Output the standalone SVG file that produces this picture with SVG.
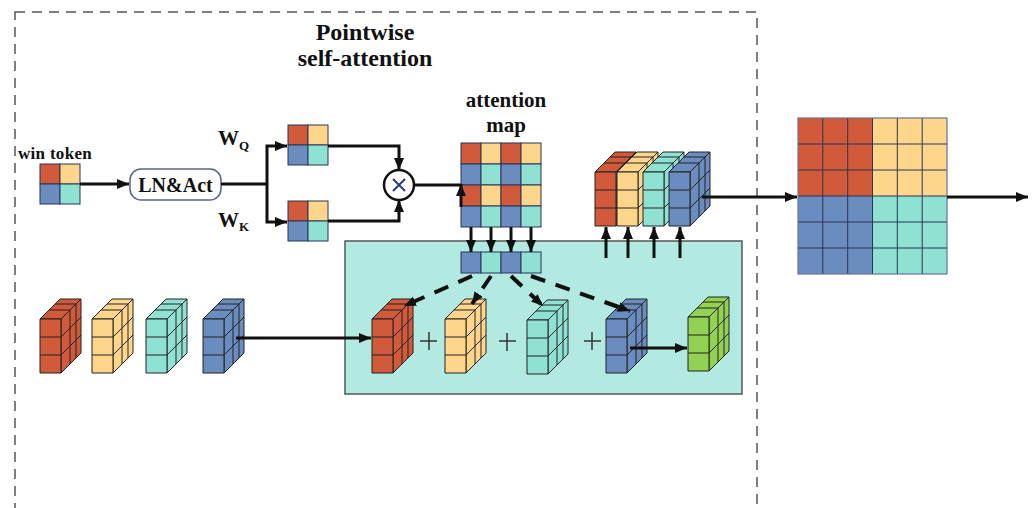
<svg xmlns="http://www.w3.org/2000/svg" xmlns:xlink="http://www.w3.org/1999/xlink" width="1035" height="508" viewBox="0 0 1035 508">
  <style>
    .r{fill:#d05a3a}
    .y{fill:#fed68b}
    .b{fill:#6a8cbf}
    .t{fill:#8fe1d1}
    .g{fill:#93d152}
    .cell rect{stroke:#2b3556;stroke-width:1}
    .lbl{font-family:"Liberation Serif","Times New Roman",serif;font-weight:bold;fill:#111}
    .conn{fill:none;stroke:#111;stroke-width:3}
    .dash{fill:none;stroke:#111;stroke-width:4;stroke-dasharray:15 11}
  </style>
  <defs>
    <marker id="ah" viewBox="0 0 12 10" refX="12" refY="5" markerWidth="12" markerHeight="10" markerUnits="userSpaceOnUse" orient="auto">
      <path d="M0,0 L12,5 L0,10 z" fill="#111"/>
    </marker>
    <!-- block of 1 x 3 x 3 cubes; faces take the fill of the <use> -->
    <g id="blk" stroke="#222" stroke-width="1" stroke-linejoin="round">
      <polygon points="0,0 21,0 41,-20 20,-20"/>
      <polygon points="21,0 41,-20 41,34 21,54"/>
      <rect x="0" y="0" width="21" height="54"/>
      <path d="M0 18H21M0 36H21M30 -9V45M36 -15V39M21 18L41 -2M21 36L41 16M9 -9H30M15 -15H36" fill="none"/>
    </g>
  </defs>

  <rect width="1035" height="508" fill="#fff"/>

  <!-- outer dashed frame -->
  <g id="frame">
    <rect x="15" y="12" width="742" height="520" fill="none" stroke="#555" stroke-width="1.5" stroke-dasharray="10 7"/>
    <text class="lbl" x="365" y="40" font-size="24" text-anchor="middle">Pointwise</text>
    <text class="lbl" x="365" y="66" font-size="24" text-anchor="middle">self-attention</text>
  </g>

  <!-- weighted-sum panel -->
  <g id="sum-panel">
    <rect x="345" y="241" width="397" height="153" fill="#b2e9e1" stroke="#555" stroke-width="1.5"/>
  </g>

  <g id="win-token" class="cell">
    <text class="lbl" x="18" y="159" font-size="17" letter-spacing="0.3">win token</text>
    <rect class="r" x="40" y="164" width="20" height="20"/>
    <rect class="y" x="60" y="164" width="20" height="20"/>
    <rect class="b" x="40" y="184" width="20" height="20"/>
    <rect class="t" x="60" y="184" width="20" height="20"/>
  </g>

  <g id="ln-act">
    <rect x="130" y="169" width="91" height="31" rx="11" fill="#fff" stroke="#5a6488" stroke-width="1.5"/>
    <text class="lbl" x="175.5" y="192" font-size="20" text-anchor="middle">LN&amp;Act</text>
  </g>

  <g id="wq">
    <text class="lbl" x="218" y="145" font-size="21">W<tspan font-size="13" dy="5">Q</tspan></text>
  </g>
  <g id="wk">
    <text class="lbl" x="218" y="227" font-size="21">W<tspan font-size="13" dy="4">K</tspan></text>
  </g>

  <g id="q-token" class="cell">
    <rect class="r" x="288" y="125" width="20" height="20"/>
    <rect class="y" x="308" y="125" width="20" height="20"/>
    <rect class="b" x="288" y="145" width="20" height="20"/>
    <rect class="t" x="308" y="145" width="20" height="20"/>
  </g>
  <g id="k-token" class="cell">
    <rect class="r" x="288" y="201" width="20" height="20"/>
    <rect class="y" x="308" y="201" width="20" height="20"/>
    <rect class="b" x="288" y="221" width="20" height="20"/>
    <rect class="t" x="308" y="221" width="20" height="20"/>
  </g>

  <g id="multiply">
    <circle cx="399" cy="185" r="15" fill="#fff" stroke="#111" stroke-width="2.5"/>
    <path d="M393,179 L405,191 M405,179 L393,191" stroke="#2a3f78" stroke-width="2"/>
  </g>

  <g id="attention-map" class="cell">
    <text class="lbl" x="506" y="107" font-size="21" text-anchor="middle">attention</text>
    <text class="lbl" x="506" y="132" font-size="21" text-anchor="middle">map</text>
    <rect class="r" x="461" y="143" width="20" height="21"/>
    <rect class="y" x="481" y="143" width="20" height="21"/>
    <rect class="r" x="501" y="143" width="20" height="21"/>
    <rect class="y" x="521" y="143" width="20" height="21"/>
    <rect class="b" x="461" y="164" width="20" height="21"/>
    <rect class="t" x="481" y="164" width="20" height="21"/>
    <rect class="b" x="501" y="164" width="20" height="21"/>
    <rect class="t" x="521" y="164" width="20" height="21"/>
    <rect class="r" x="461" y="185" width="20" height="21"/>
    <rect class="y" x="481" y="185" width="20" height="21"/>
    <rect class="r" x="501" y="185" width="20" height="21"/>
    <rect class="y" x="521" y="185" width="20" height="21"/>
    <rect class="b" x="461" y="206" width="20" height="21"/>
    <rect class="t" x="481" y="206" width="20" height="21"/>
    <rect class="b" x="501" y="206" width="20" height="21"/>
    <rect class="t" x="521" y="206" width="20" height="21"/>
  </g>

  <g id="weight-strip" class="cell">
    <rect class="b" x="461" y="252" width="20" height="21"/>
    <rect class="t" x="481" y="252" width="20" height="21"/>
    <rect class="b" x="501" y="252" width="20" height="21"/>
    <rect class="t" x="521" y="252" width="20" height="21"/>
  </g>

  <g id="value-blocks">
    <use href="#blk" x="40" y="319" class="r"/>
    <use href="#blk" x="92" y="319" class="y"/>
    <use href="#blk" x="146" y="319" class="t"/>
    <use href="#blk" x="203" y="319" class="b"/>
  </g>

  <g id="weighted-blocks">
    <use href="#blk" x="372" y="319" class="r"/>
    <use href="#blk" x="445" y="319" class="y"/>
    <use href="#blk" x="527" y="320" class="t"/>
    <use href="#blk" x="606" y="319" class="b"/>
    <path d="M420,341 H437 M507,333 V351 M499,341 H516 M584,341 H601 M429,332 V350 M592,332 V350" stroke="#333" stroke-width="1.5"/>
  </g>

  <g id="sum-block">
    <use href="#blk" x="688" y="317" class="g"/>
  </g>

  <g id="stacked-blocks">
    <use href="#blk" x="595" y="172" class="r"/>
    <use href="#blk" x="617" y="172" class="y"/>
    <use href="#blk" x="643" y="172" class="t"/>
    <use href="#blk" x="669" y="172" class="b"/>
  </g>

  <g id="output-map">
    <rect class="r" x="798" y="118" width="74.5" height="78"/>
    <rect class="y" x="872.5" y="118" width="74.5" height="78"/>
    <rect class="b" x="798" y="196" width="74.5" height="78"/>
    <rect class="t" x="872.5" y="196" width="74.5" height="78"/>
    <path d="M822.8,118V274M847.7,118V274M872.5,118V274M897.3,118V274M922.2,118V274M798,144H947M798,170H947M798,196H947M798,222H947M798,248H947" stroke="#2b3556" stroke-width="1" fill="none"/>
    <rect x="798" y="118" width="149" height="156" fill="none" stroke="#6a7490" stroke-width="1.2"/>
  </g>

  <g id="connectors">
    <path class="conn" d="M80,184 H129" marker-end="url(#ah)"/>
    <path class="conn" d="M221,184 H267"/>
    <path class="conn" d="M267,184 V146 H287" marker-end="url(#ah)"/>
    <path class="conn" d="M267,184 V222 H287" marker-end="url(#ah)"/>
    <path class="conn" d="M328,146 H399 V170" marker-end="url(#ah)"/>
    <path class="conn" d="M328,221 H399 V200" marker-end="url(#ah)"/>
    <path class="conn" d="M414,185 H461"/>
    <path class="conn" d="M461,207 V184" marker-end="url(#ah)"/>
    <path class="conn" d="M471,227 V252" marker-end="url(#ah)"/>
    <path class="conn" d="M491,227 V252" marker-end="url(#ah)"/>
    <path class="conn" d="M511,227 V252" marker-end="url(#ah)"/>
    <path class="conn" d="M531,227 V252" marker-end="url(#ah)"/>
    <path class="dash" d="M472,276 L404,306" marker-end="url(#ah)"/>
    <path class="dash" d="M491,276 L472,304" marker-end="url(#ah)"/>
    <path class="dash" d="M511,276 L543,306" marker-end="url(#ah)"/>
    <path class="dash" d="M531,276 L630,311" marker-end="url(#ah)"/>
    <path class="conn" d="M236,338 H371" marker-end="url(#ah)"/>
    <path class="conn" d="M630,348 H687" marker-end="url(#ah)"/>
    <path class="conn" d="M606,258 V227" marker-end="url(#ah)"/>
    <path class="conn" d="M628,258 V227" marker-end="url(#ah)"/>
    <path class="conn" d="M654,258 V227" marker-end="url(#ah)"/>
    <path class="conn" d="M680,258 V227" marker-end="url(#ah)"/>
    <path class="conn" d="M702,197 H797" marker-end="url(#ah)"/>
    <path class="conn" d="M947,197 H1028" marker-end="url(#ah)"/>
  </g>
</svg>
